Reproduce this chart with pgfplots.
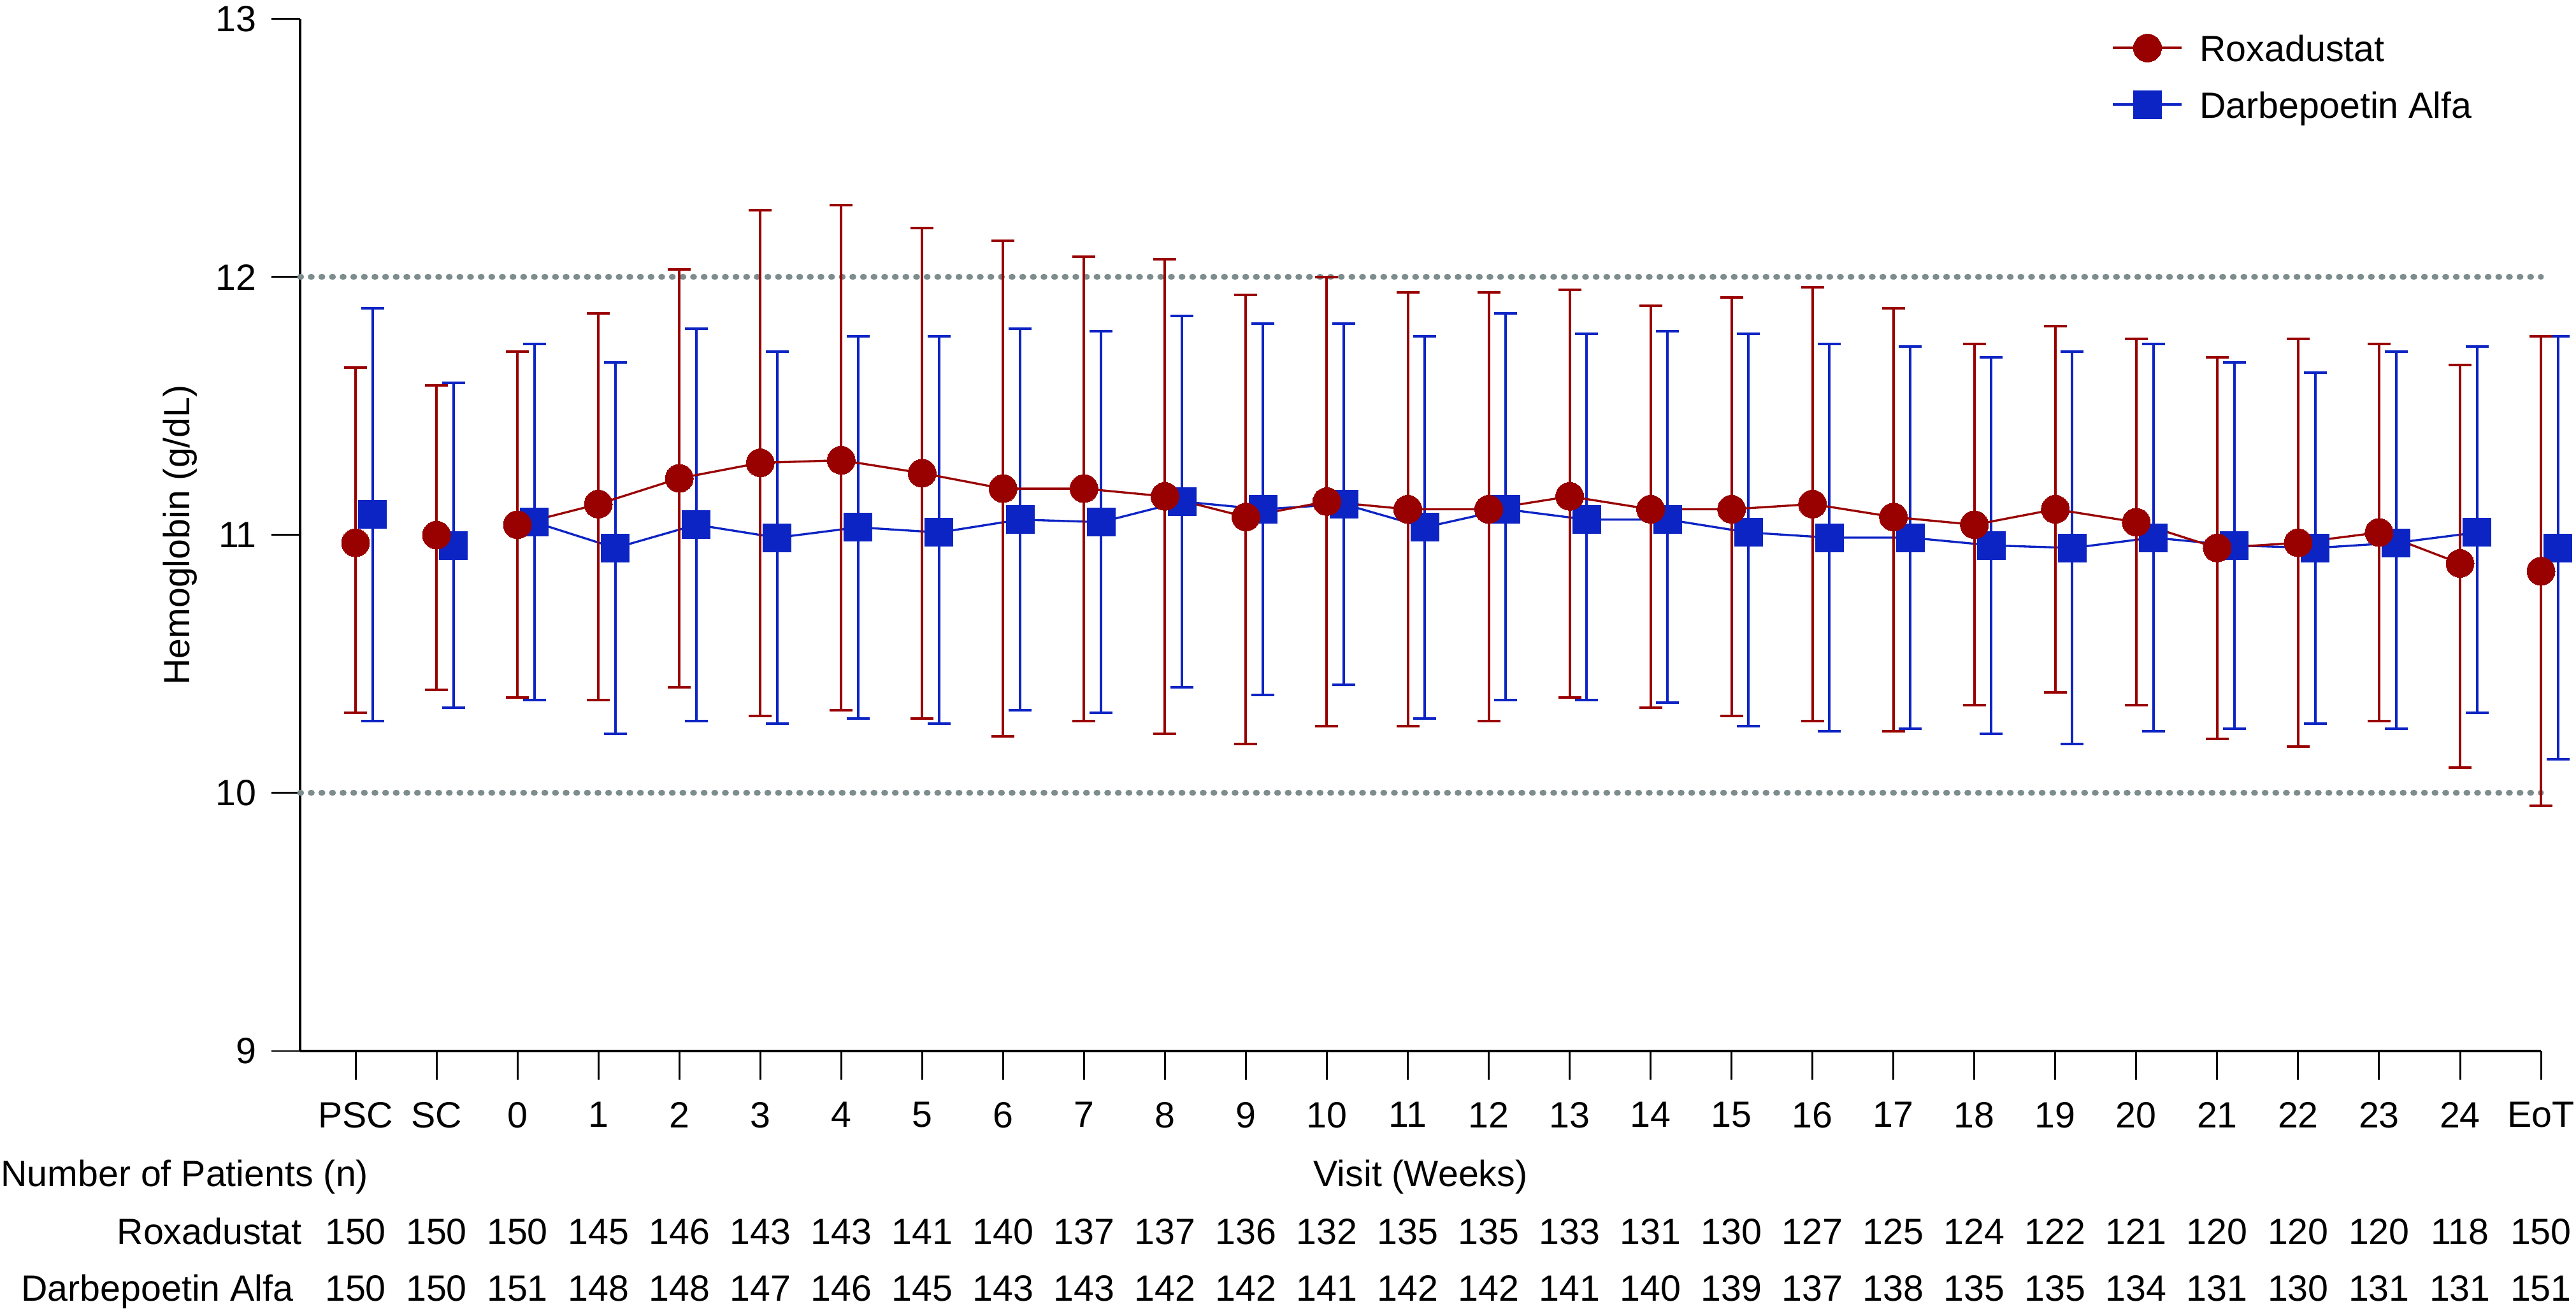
\documentclass[border=0pt]{standalone}
\usepackage{fontspec}
\setmainfont{Liberation Sans}
\usepackage{pgfplots}
\usepackage{pgfplotstable}
\pgfplotsset{compat=1.18}
\definecolor{roxc}{RGB}{153,0,0}
\definecolor{darbc}{RGB}{13,36,196}
\definecolor{gridc}{RGB}{125,140,140}

\pgfplotstableread{
x y hi lo
0 10.97 11.65 10.31
1 11.00 11.58 10.40
2 11.04 11.71 10.37
3 11.12 11.86 10.36
4 11.22 12.03 10.41
5 11.28 12.26 10.30
6 11.29 12.28 10.32
7 11.24 12.19 10.29
8 11.18 12.14 10.22
9 11.18 12.08 10.28
10 11.15 12.07 10.23
11 11.07 11.93 10.19
12 11.13 12.00 10.26
13 11.10 11.94 10.26
14 11.10 11.94 10.28
15 11.15 11.95 10.37
16 11.10 11.89 10.33
17 11.10 11.92 10.30
18 11.12 11.96 10.28
19 11.07 11.88 10.24
20 11.04 11.74 10.34
21 11.10 11.81 10.39
22 11.05 11.76 10.34
23 10.95 11.69 10.21
24 10.97 11.76 10.18
25 11.01 11.74 10.28
26 10.89 11.66 10.10
27 10.86 11.77 9.95
}\rox

\pgfplotstableread{
x y hi lo
0 11.08 11.88 10.28
1 10.96 11.59 10.33
2 11.05 11.74 10.36
3 10.95 11.67 10.23
4 11.04 11.80 10.28
5 10.99 11.71 10.27
6 11.03 11.77 10.29
7 11.01 11.77 10.27
8 11.06 11.80 10.32
9 11.05 11.79 10.31
10 11.13 11.85 10.41
11 11.10 11.82 10.38
12 11.12 11.82 10.42
13 11.03 11.77 10.29
14 11.10 11.86 10.36
15 11.06 11.78 10.36
16 11.06 11.79 10.35
17 11.01 11.78 10.26
18 10.99 11.74 10.24
19 10.99 11.73 10.25
20 10.96 11.69 10.23
21 10.95 11.71 10.19
22 10.99 11.74 10.24
23 10.96 11.67 10.25
24 10.95 11.63 10.27
25 10.97 11.71 10.25
26 11.01 11.73 10.31
27 10.95 11.77 10.13
}\darb

\begin{document}
\begin{tikzpicture}[font=\fontsize{8.6bp}{10.3bp}\selectfont]
\useasboundingbox (-70.65bp,-60.6bp) rectangle (535.8bp,247.5bp);
\begin{axis}[
 name=ax, at={(0,0)}, anchor=south west,
 scale only axis, width=527.55bp, height=243bp,
 xmin=-0.685, xmax=27, ymin=9, ymax=13,
 clip=false,
 axis x line*=bottom, axis y line*=left,
 axis line style={line width=0.6bp, black},
 tick align=outside, major tick length=6.75bp,
 every tick/.style={black, line width=0.45bp},
 xtick={0,...,27},
 xticklabels={PSC,SC,0,1,2,3,4,5,6,7,8,9,10,11,12,13,14,15,16,17,18,19,20,21,22,23,24,EoT},
 ytick={9,10,11,12,13},
 /pgf/number format/assume math mode=true,
 tick label style={font=\fontsize{8.6bp}{10.3bp}\selectfont},
 xticklabel style={yshift=-1.75bp},
 xlabel={Visit (Weeks)},
 xlabel style={at={(axis description cs:0.5,0)}, anchor=base, yshift=-31.8bp},
 ylabel={Hemoglobin (g/dL)},
 ylabel style={at={(axis description cs:-0.05345,0.5)}, anchor=center},
 legend style={draw=none, fill=none, at={(0.8081,0.9864)}, anchor=north west,
   inner xsep=0pt, inner ysep=0pt, row sep=6.75bp, column sep=3.9bp,
   nodes={inner sep=0pt, text depth=0pt}, cells={anchor=west},
   font=\fontsize{8.6bp}{10.3bp}\selectfont},
 legend image code/.code={\draw[mark repeat=2,mark phase=2,#1] plot coordinates {(0bp,0bp) (8.1bp,0bp) (16.2bp,0bp)};},
]
% reference lines
\addplot[forget plot, gridc, line width=1.35bp, line cap=round, dash pattern=on 0.25bp off 2.25bp] coordinates {(-0.685,12) (27,12)};
\addplot[forget plot, gridc, line width=1.35bp, line cap=round, dash pattern=on 0.25bp off 2.25bp] coordinates {(-0.685,10) (27,10)};

% Darbepoetin
\addplot[forget plot, darbc, line width=0.5bp, no markers, restrict x to domain=1.5:26.5]
  table[x expr=\thisrow{x}+0.21, y=y] {\darb};
\addplot[forget plot, darbc, only marks, mark=square*, mark size=3.3bp,
  mark options={solid, fill=darbc, line width=0pt},
  error bars/.cd, y dir=both, y explicit,
  error bar style={line width=0.6bp, darbc},
  error mark options={rotate=90, mark size=2.7bp, line width=0.6bp, darbc}]
  table[x expr=\thisrow{x}+0.21, y=y, y error plus expr=\thisrow{hi}-\thisrow{y}, y error minus expr=\thisrow{y}-\thisrow{lo}] {\darb};

% Roxadustat
\addplot[forget plot, roxc, line width=0.5bp, no markers, restrict x to domain=1.5:26.5]
  table[x=x, y=y] {\rox};
\addplot[forget plot, roxc, only marks, mark=*, mark size=3.3bp,
  mark options={solid, fill=roxc, line width=0pt},
  error bars/.cd, y dir=both, y explicit,
  error bar style={line width=0.6bp, roxc},
  error mark options={rotate=90, mark size=2.7bp, line width=0.6bp, roxc}]
  table[x=x, y=y, y error plus expr=\thisrow{hi}-\thisrow{y}, y error minus expr=\thisrow{y}-\thisrow{lo}] {\rox};

\addlegendimage{roxc, line width=0.6bp, mark=*, mark size=3.3bp, mark options={solid, fill=roxc, line width=0pt}}
\addlegendentry{Roxadustat}
\addlegendimage{darbc, line width=0.6bp, mark=square*, mark size=3.3bp, mark options={solid, fill=darbc, line width=0pt}}
\addlegendentry{Darbepoetin Alfa}
\end{axis}

\begin{scope}[shift={(ax.south west)}]
\node[anchor=base west, inner sep=0pt] at (-70.65bp,-31.8bp) {Number of Patients (n)};
\node[anchor=base east, inner sep=0pt] at (0.6bp,-45.45bp) {Roxadustat};
\node[anchor=base east, inner sep=0pt] at (-1.35bp,-58.8bp) {Darbepoetin Alfa};
\foreach \n [count=\i from 0] in {150,150,150,145,146,143,143,141,140,137,137,136,132,135,135,133,131,130,127,125,124,122,121,120,120,120,118,150}
  \node[anchor=base, inner sep=0pt] at ({\i*19.055bp+13.05bp},-45.45bp) {\n};
\foreach \n [count=\i from 0] in {150,150,151,148,148,147,146,145,143,143,142,142,141,142,142,141,140,139,137,138,135,135,134,131,130,131,131,151}
  \node[anchor=base, inner sep=0pt] at ({\i*19.055bp+13.05bp},-58.8bp) {\n};
\end{scope}
\end{tikzpicture}
\end{document}
